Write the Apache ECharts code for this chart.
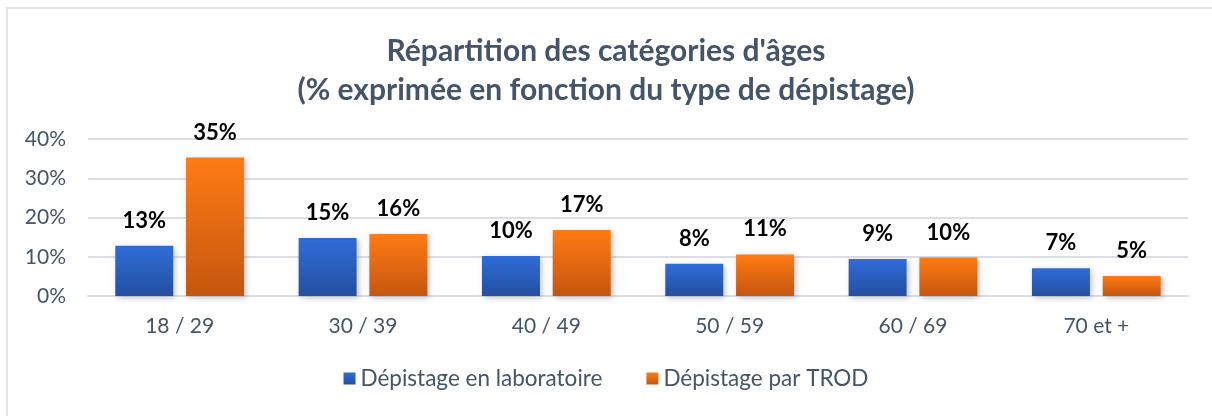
<!DOCTYPE html>
<html>
<head>
<meta charset="utf-8">
<script src="https://cdn.jsdelivr.net/npm/echarts@6/dist/echarts.min.js"></script>
<style>
  html, body { margin: 0; padding: 0; background: #fff; }
  #frame {
    position: absolute; left: 6px; top: 7px; right: -4px; bottom: -4px;
    border-left: 2px solid #dfe4ea; border-top: 2px solid #dfe4ea;
  }
  #chart { position: absolute; left: 0; top: 0; width: 1212px; height: 416px; }
</style>
</head>
<body>
<div id="frame"></div>
<div id="chart"></div>
<script>
// Age groups on the x axis
const categories = ["18 / 29", "30 / 39", "40 / 49", "50 / 59", "60 / 69", "70 et +"];
// Share of each age group, by screening type
const laboValues = [0.128, 0.148, 0.102, 0.082, 0.094, 0.071];
const trodValues = [0.353, 0.158, 0.168, 0.106, 0.098, 0.051];
const seriesNames = ["Dépistage en laboratoire", "Dépistage par TROD"];

const FONT = "Lato, 'Noto Sans', sans-serif";
const TEXT = "#44546a";
const GRID = "#dadfe6";

const gradient = (top, bottom) =>
  new echarts.graphic.LinearGradient(0, 0, 0, 1, [
    { offset: 0, color: top },
    { offset: 1, color: bottom },
  ]);

const pct = (v) => Math.round(v * 100) + "%";

const barStyle = (top, bottom) => ({
  color: gradient(top, bottom),
  shadowBlur: 6,
  shadowColor: "rgba(0,0,0,0.22)",
  shadowOffsetX: 2,
  shadowOffsetY: 2,
});

const dataLabel = {
  show: true,
  position: "top",
  distance: 14,
  formatter: (p) => pct(p.value),
  color: "#000",
  fontFamily: FONT,
  fontWeight: "bold",
  fontSize: 22,
};

const chart = echarts.init(document.getElementById("chart"));

chart.setOption({
  animation: false,
  title: {
    text: "Répartition des catégories d'âges\n(% exprimée en fonction du type de dépistage)",
    left: "center",
    top: 27,
    textStyle: {
      fontFamily: FONT,
      fontWeight: "bold",
      fontSize: 30,
      lineHeight: 39,
      color: TEXT,
    },
  },
  legend: {
    data: seriesNames,
    bottom: 21,
    icon: "rect",
    itemWidth: 12,
    itemHeight: 12,
    itemGap: 44,
    textStyle: { fontFamily: FONT, fontSize: 22.5, color: TEXT },
  },
  grid: { left: 88, right: 24, top: 139, bottom: 120 },
  xAxis: {
    type: "category",
    data: categories,
    axisTick: { show: false },
    axisLine: { show: true, lineStyle: { color: GRID, width: 2 } },
    axisLabel: { fontFamily: FONT, fontSize: 21, color: TEXT, margin: 20 },
  },
  yAxis: {
    type: "value",
    min: 0,
    max: 0.4,
    interval: 0.1,
    axisLabel: {
      fontFamily: FONT, fontSize: 21, color: TEXT, margin: 22,
      formatter: (v) => Math.round(v * 100) + "%",
    },
    splitLine: { lineStyle: { color: GRID, width: 2 } },
  },
  series: [
    {
      name: seriesNames[0],
      type: "bar",
      data: laboValues,
      barWidth: 58,
      barGap: "22%",
      itemStyle: barStyle("#2f6cd8", "#2450a0"),
      label: dataLabel,
    },
    {
      name: seriesNames[1],
      type: "bar",
      data: trodValues,
      barWidth: 58,
      barGap: "22%",
      itemStyle: barStyle("#ff7b15", "#c5560f"),
      label: dataLabel,
    },
  ],
});
</script>
</body>
</html>
